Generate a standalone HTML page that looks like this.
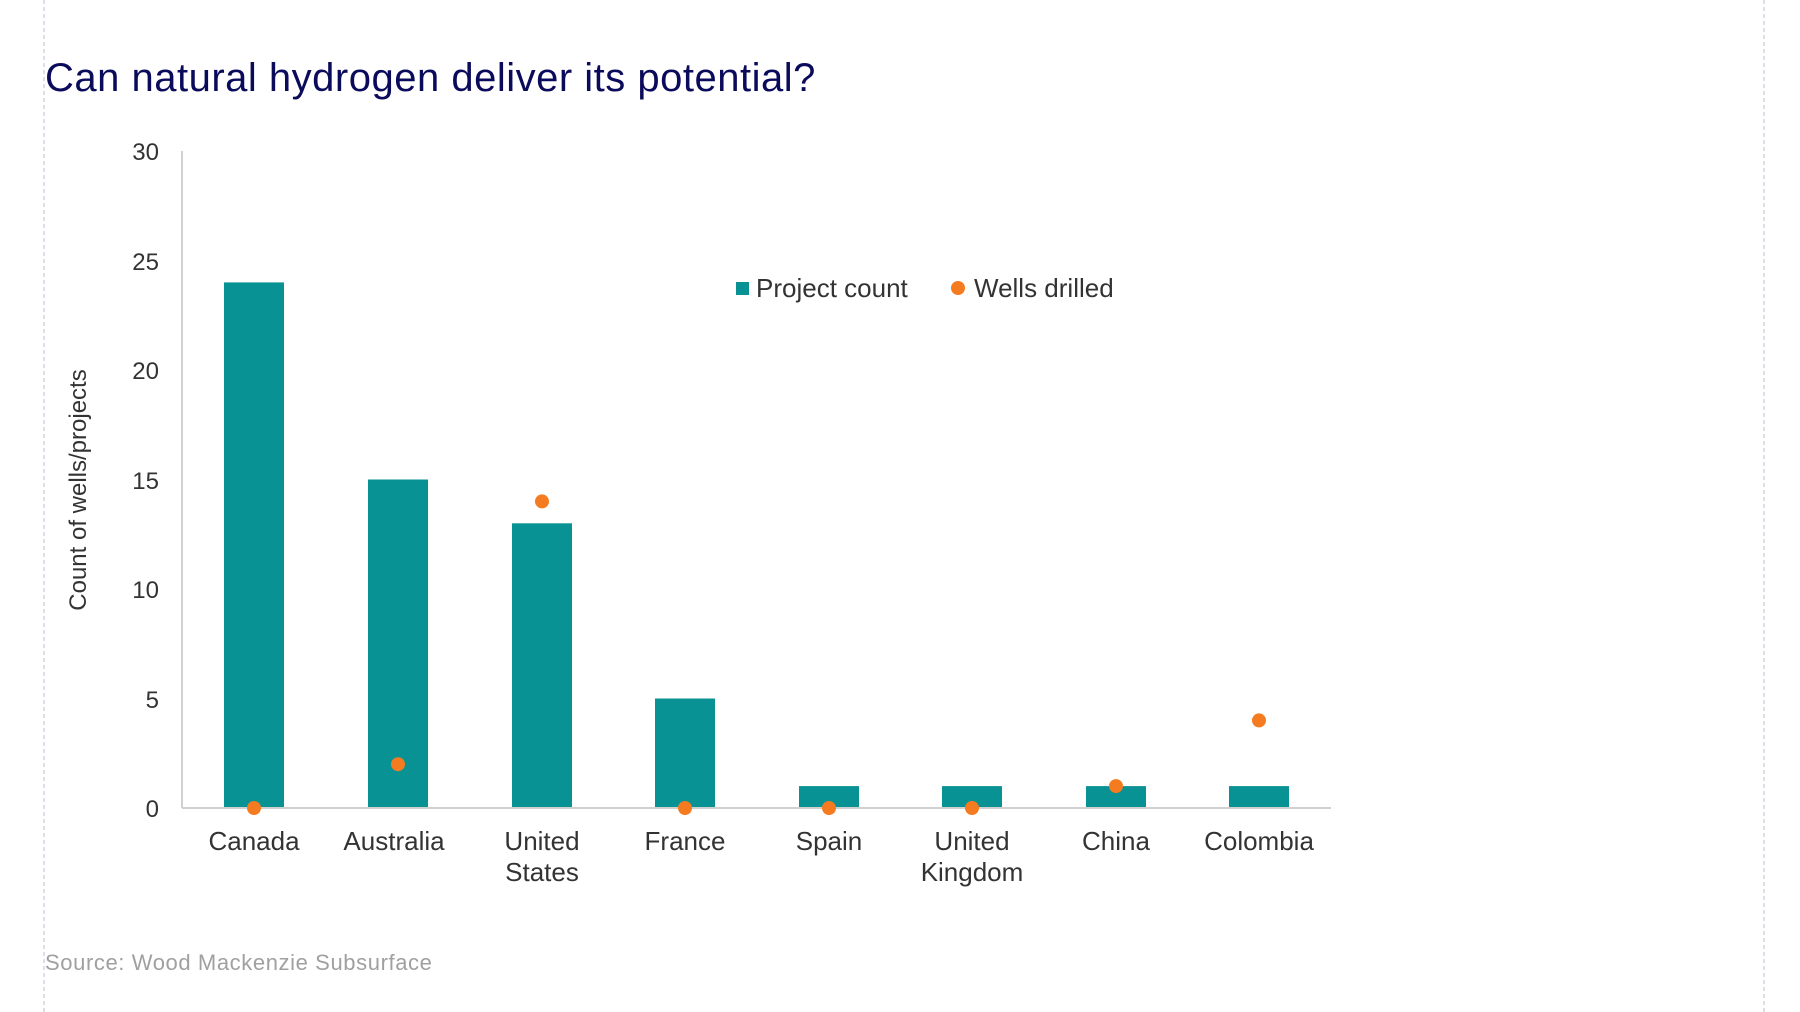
<!DOCTYPE html>
<html><head><meta charset="utf-8"><style>
html,body{margin:0;padding:0;background:#fff;}
svg{display:block;}
</style></head><body>
<svg width="1800" height="1012" viewBox="0 0 1800 1012" xmlns="http://www.w3.org/2000/svg" font-family="Liberation Sans, sans-serif">
<line x1="44" y1="0" x2="44" y2="1012" stroke="#b8bcd0" stroke-dasharray="4,3" stroke-width="1"/>
<line x1="1764" y1="0" x2="1764" y2="1012" stroke="#b8bcd0" stroke-dasharray="4,3" stroke-width="1"/>
<text x="45" y="91" font-size="40" fill="#0b0b5c" letter-spacing="0.5">Can natural hydrogen deliver its potential?</text>
<g font-size="24" fill="#333" text-anchor="end">
<text x="159" y="160">30</text><text x="159" y="270">25</text><text x="159" y="379">20</text>
<text x="159" y="489">15</text><text x="159" y="598">10</text><text x="159" y="708">5</text><text x="159" y="817">0</text>
</g>
<line x1="182" y1="151" x2="182" y2="808" stroke="#d0d0d0" stroke-width="2"/>
<text transform="translate(86,490) rotate(-90)" font-size="24" fill="#333" text-anchor="middle">Count of wells/projects</text>
<g fill="#099294">
<rect x="224" y="282.4" width="60" height="525.6"/>
<rect x="368" y="479.5" width="60" height="328.5"/>
<rect x="512" y="523.3" width="60" height="284.7"/>
<rect x="655" y="698.5" width="60" height="109.5"/>
<rect x="799" y="786.1" width="60" height="21.9"/>
<rect x="942" y="786.1" width="60" height="21.9"/>
<rect x="1086" y="786.1" width="60" height="21.9"/>
<rect x="1229" y="786.1" width="60" height="21.9"/>
</g>
<line x1="182" y1="808" x2="1331" y2="808" stroke="#d0d0d0" stroke-width="2"/>
<g fill="#f47b20">
<circle cx="254" cy="808" r="7"/><circle cx="398" cy="764.2" r="7"/><circle cx="542" cy="501.4" r="7"/>
<circle cx="685" cy="808" r="7"/><circle cx="829" cy="808" r="7"/><circle cx="972" cy="808" r="7"/>
<circle cx="1116" cy="786.1" r="7"/><circle cx="1259" cy="720.4" r="7"/>
</g>
<g font-size="26" fill="#333" text-anchor="middle">
<text x="254" y="850">Canada</text><text x="394" y="850">Australia</text>
<text x="542" y="850">United</text><text x="542" y="881">States</text>
<text x="685" y="850">France</text><text x="829" y="850">Spain</text>
<text x="972" y="850">United</text><text x="972" y="881">Kingdom</text>
<text x="1116" y="850">China</text><text x="1259" y="850">Colombia</text>
</g>
<rect x="736" y="282" width="13" height="13" fill="#099294"/>
<text x="756" y="297" font-size="26" fill="#333">Project count</text>
<circle cx="958" cy="288" r="7" fill="#f47b20"/>
<text x="974" y="297" font-size="26" fill="#333">Wells drilled</text>
<text x="45" y="970" font-size="22" fill="#a0a0a0" letter-spacing="0.6">Source: Wood Mackenzie Subsurface</text>
</svg>
</body></html>
